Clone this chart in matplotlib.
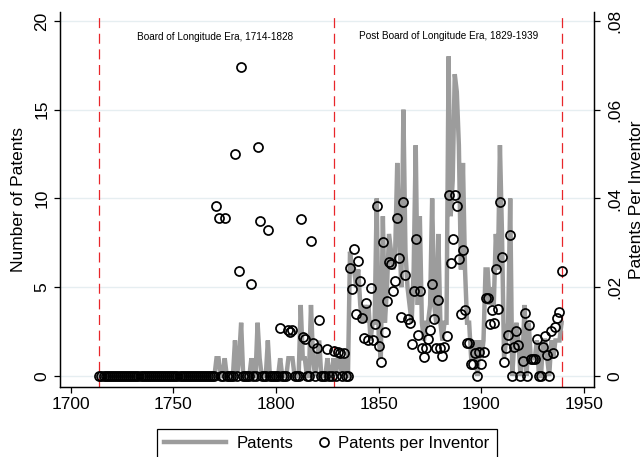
import numpy as np
import matplotlib.pyplot as plt
from matplotlib.legend_handler import HandlerLine2D

plt.rcParams['font.family'] = ['Liberation Sans', 'DejaVu Sans']

# years covered by the series
years = list(range(1714, 1940))

# number of patents per year (left axis)
patents = [
    0, 0, 0, 0, 0, 0,                   # 1714-1719
    0, 0, 0, 0, 0, 0, 0, 0, 0, 0,       # 1720s
    0, 0, 0, 0, 0, 0, 0, 0, 0, 0,       # 1730s
    0, 0, 0, 0, 0, 0, 0, 0, 0, 0,       # 1740s
    0, 0, 0, 0, 0, 0, 0, 0, 0, 0,       # 1750s
    0, 0, 0, 0, 0, 0, 0, 0, 0, 0,       # 1760s
    0, 1, 1, 0, 0, 1, 0, 0, 0, 0,       # 1770s
    2, 0, 1, 3, 0, 0, 0, 0, 1, 0,       # 1780s
    0, 3, 1, 0, 0, 0, 2, 0, 0, 0,       # 1790s
    0, 0, 1, 0, 0, 0, 1, 1, 1, 0,       # 1800s
    0, 0, 4, 1, 1, 0, 0, 4, 1, 0,       # 1810s
    1, 2, 0, 0, 0, 1, 0, 0, 1, 0,       # 1820s
    1, 1, 0, 1, 0, 0, 7, 6, 6, 5,       # 1830s
    6, 4, 3, 4, 3, 4, 2, 3, 3, 10,      # 1840s
    2, 1, 9, 3, 5, 8, 7, 6, 7, 12,      # 1850s
    8, 5, 15, 7, 5, 4, 3, 6, 13, 4,     # 1860s
    9, 3, 2, 3, 3, 4, 10, 4, 3, 8,      # 1870s
    3, 2, 3, 3, 18, 9, 11, 17, 16, 13,  # 1880s
    6, 12, 6, 3, 3, 1, 1, 2, 0, 2,      # 1890s
    1, 2, 6, 6, 4, 5, 4, 8, 6, 13,      # 1900s
    8, 1, 2, 3, 10, 0, 2, 3, 2, 0,      # 1910s
    1, 4, 0, 3, 1, 1, 1, 2, 0, 0,       # 1920s
    2, 2, 1, 0, 2, 1, 2, 2, 2, 3,       # 1930s
]

# patents per inventor (right axis)
ppi = [
    0, 0, 0, 0, 0, 0,
    0, 0, 0, 0, 0, 0, 0, 0, 0, 0,
    0, 0, 0, 0, 0, 0, 0, 0, 0, 0,
    0, 0, 0, 0, 0, 0, 0, 0, 0, 0,
    0, 0, 0, 0, 0, 0, 0, 0, 0, 0,
    0, 0, 0, 0, 0, 0, 0, 0, 0, 0,
    0, .0384, .0356, 0, 0, .0356, 0, 0, 0, 0,
    .0500, 0, .0237, .0696, 0, 0, 0, 0, .0208, 0,
    0, .0516, .0350, 0, 0, 0, .0328, 0, 0, 0,
    0, 0, .0109, 0, 0, 0, .0104, .0100, .0104, 0,
    0, 0, .0354, .0088, .0084, 0, 0, .0303, .0074, 0,
    .0064, .0126, 0, 0, 0, .0060, 0, 0, .0056, 0,
    .0054, .0052, 0, .0051, 0, 0, .0244, .0196, .0286, .0140,
    .0258, .0214, .0130, .0085, .0165, .0080, .0198, .0080, .0117, .0382,
    .0068, .0032, .0301, .0100, .0168, .0256, .0252, .0192, .0214, .0357,
    .0265, .0132, .0391, .0228, .0128, .0120, .0072, .0192, .0308, .0092,
    .0192, .0064, .0042, .0064, .0083, .0104, .0208, .0128, .0064, .0172,
    .0064, .0044, .0066, .0091, .0408, .0255, .0309, .0408, .0384, .0263,
    .0140, .0284, .0148, .0075, .0075, .0026, .0026, .0052, 0, .0054,
    .0026, .0054, .0175, .0175, .0116, .0148, .0119, .0240, .0152, .0391,
    .0267, .0031, .0064, .0092, .0318, 0, .0066, .0101, .0070, 0,
    .0034, .0141, 0, .0114, .0039, .0039, .0039, .0083, 0, 0,
    .0066, .0090, .0047, 0, .0102, .0052, .0110, .0130, .0145, .0236,
]

era_lines = [1714, 1828, 1939]
left_ticks = [0, 5, 10, 15, 20]
right_ticks = [0, .02, .04, .06, .08]
right_labels = ['0', '.02', '.04', '.06', '.08']
x_ticks = [1700, 1750, 1800, 1850, 1900, 1950]

fig = plt.figure(figsize=(6.43, 4.57), dpi=100)
ax = fig.add_axes([0.0933, 0.1532, 0.8305, 0.8205])
ax2 = ax.twinx()

# gridlines for the left axis
for t in left_ticks:
    ax.axhline(t, color='#e6eef1', lw=1.0, zorder=0)

ln, = ax.plot(years, patents, color='#9c9c9c', lw=3.2, solid_joinstyle='miter',
              label='Patents', zorder=2)
sc, = ax2.plot(years, ppi, 'o', mfc='none', mec='black', ms=6.5, mew=1.25,
               label='Patents per Inventor', zorder=3)

for x in era_lines:
    ax.axvline(x, color='#e8262a', lw=0.9, dashes=(8, 4.5), zorder=1)

ax.text(1770.3, 19.1, 'Board of Longitude Era, 1714-1828', fontsize=7.2,
        ha='center', va='center')
ax.text(1884.2, 19.15, 'Post Board of Longitude Era, 1829-1939', fontsize=7.2,
        ha='center', va='center')

ax.set_xlim(1694.8, 1954.8)
ax.set_ylim(-0.62, 20.5)
ax2.set_ylim(-0.62 / 250, 20.5 / 250)

ax.set_xticks(x_ticks)
ax.set_yticks(left_ticks)
ax.set_yticklabels([str(t) for t in left_ticks], rotation=90, va='center')
ax2.set_yticks(right_ticks)
ax2.set_yticklabels(right_labels, rotation=90, va='center')

ax.tick_params(axis='both', labelsize=12.5, length=4.5, width=0.9, pad=3)
ax2.tick_params(axis='y', labelsize=12.5, length=4.5, width=0.9, pad=5)

ax.set_ylabel('Number of Patents', fontsize=12.5, labelpad=6)
ax2.set_ylabel('Patents Per Inventor', fontsize=12.5, labelpad=5)

for a in (ax, ax2):
    a.spines['top'].set_visible(False)
    for s in ('left', 'right', 'bottom'):
        a.spines[s].set_linewidth(0.9)

# legend: long line sample, circle sitting right next to its label
leg = fig.legend([ln, sc], ['Patents', 'Patents per Inventor'], loc='upper center',
                 bbox_to_anchor=(0.508, 0.0613), borderaxespad=0, ncol=2, fontsize=12.1,
                 handlelength=3.72, columnspacing=-1.64, handletextpad=0.6,
                 fancybox=False, framealpha=1, borderpad=0.42,
                 handler_map={sc: HandlerLine2D(numpoints=1, xpad=3.24)})
leg.get_frame().set_edgecolor('black')
leg.get_frame().set_linewidth(0.9)

fig.savefig('out.png', dpi=100)
